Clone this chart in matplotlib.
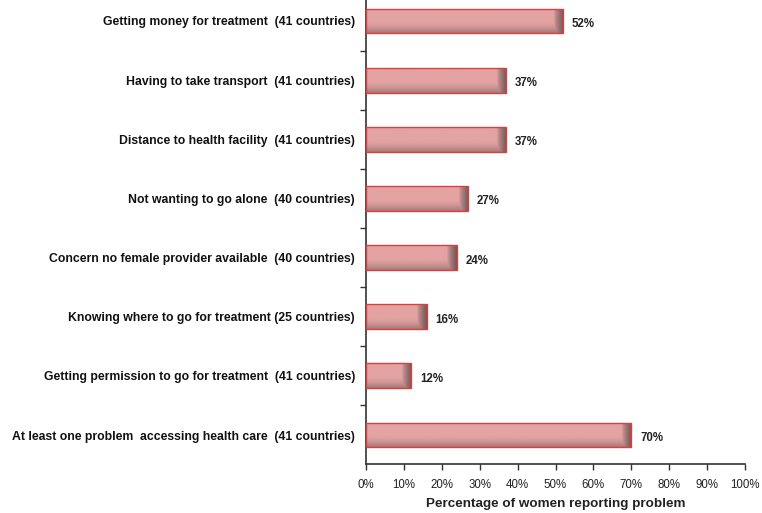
import numpy as np
import matplotlib
matplotlib.use("Agg")
import matplotlib.pyplot as plt
from matplotlib.ticker import FixedLocator
from matplotlib.colors import to_rgb

# --------------------
# Data (top to bottom)
# --------------------
problems = [
    "Getting money for treatment  (41 countries)",
    "Having to take transport  (41 countries)",
    "Distance to health facility  (41 countries)",
    "Not wanting to go alone  (40 countries)",
    "Concern no female provider available  (40 countries)",
    "Knowing where to go for treatment (25 countries)",
    "Getting permission to go for treatment  (41 countries)",
    "At least one problem  accessing health care  (41 countries)",
]
percent = [52, 37, 37, 27, 24, 16, 12, 70]
x_ticks = [0, 10, 20, 30, 40, 50, 60, 70, 80, 90, 100]

plt.rcParams['font.family'] = ['Liberation Sans', 'DejaVu Sans']

fig = plt.figure(figsize=(7.62, 5.13), dpi=100)
ax = fig.add_axes([366 / 762, 49 / 513, 379 / 762, 464 / 513])

bar_h = 0.42
base = np.array(to_rgb('#e4a3a3'))
dark = np.array(to_rgb('#5e4a4a'))

y = np.arange(len(problems))
bars = ax.barh(y, percent, height=bar_h, facecolor='none', edgecolor='#d9413f',
               linewidth=1.0, zorder=4)

# shaded fill for each bar: darker towards the bottom and at the right end
for rect, p, yi in zip(bars, percent, y):
    nx, ny = 300, 30
    xs = np.linspace(0, p, nx)
    ts = np.linspace(0, 1, ny)
    fv = np.clip((ts - 0.55) / 0.45, 0, 1) ** 1.5 * 0.45
    fh = np.clip((xs - (p - 2.6)) / 2.6, 0, 1) ** 0.7 * 0.85
    f = np.maximum(fv[:, None], fh[None, :])
    img = base[None, None, :] * (1 - f[..., None]) + dark[None, None, :] * f[..., None]
    im = ax.imshow(img, extent=(0, p, yi + bar_h / 2, yi - bar_h / 2),
                   aspect='auto', interpolation='bilinear', zorder=3)
    im.set_clip_path(rect)

for yi, p in zip(y, percent):
    ax.text(p + 2.3, yi + 0.05, f"{p}%", va='center', ha='left',
            fontsize=8.3, fontweight='bold', color='#222222')

ax.set_xlim(0, 100)
ax.set_ylim(7.49, -0.355)

ax.set_yticks(y)
ax.set_yticklabels(problems, fontsize=8.8, fontweight='bold', color='#111111')
ax.tick_params(axis='y', which='major', length=0, pad=8)
ax.yaxis.set_minor_locator(FixedLocator(np.arange(0.5, len(problems) - 0.5, 1)))
ax.tick_params(axis='y', which='minor', length=4, direction='out', width=1, color='#333333')

ax.set_xticks(x_ticks)
ax.set_xticklabels([f"{t}%" for t in x_ticks], fontsize=8.3, color='#222222')
ax.tick_params(axis='x', length=4, direction='out', width=1, color='#333333', pad=7)
ax.set_xlabel("Percentage of women reporting problem", fontsize=9.7, fontweight='bold',
              color='#222222', labelpad=5)

for side in ['top', 'right']:
    ax.spines[side].set_visible(False)
for side in ['left', 'bottom']:
    ax.spines[side].set_color('#333333')
    ax.spines[side].set_linewidth(1.2)

fig.savefig("out.png", dpi=100)
